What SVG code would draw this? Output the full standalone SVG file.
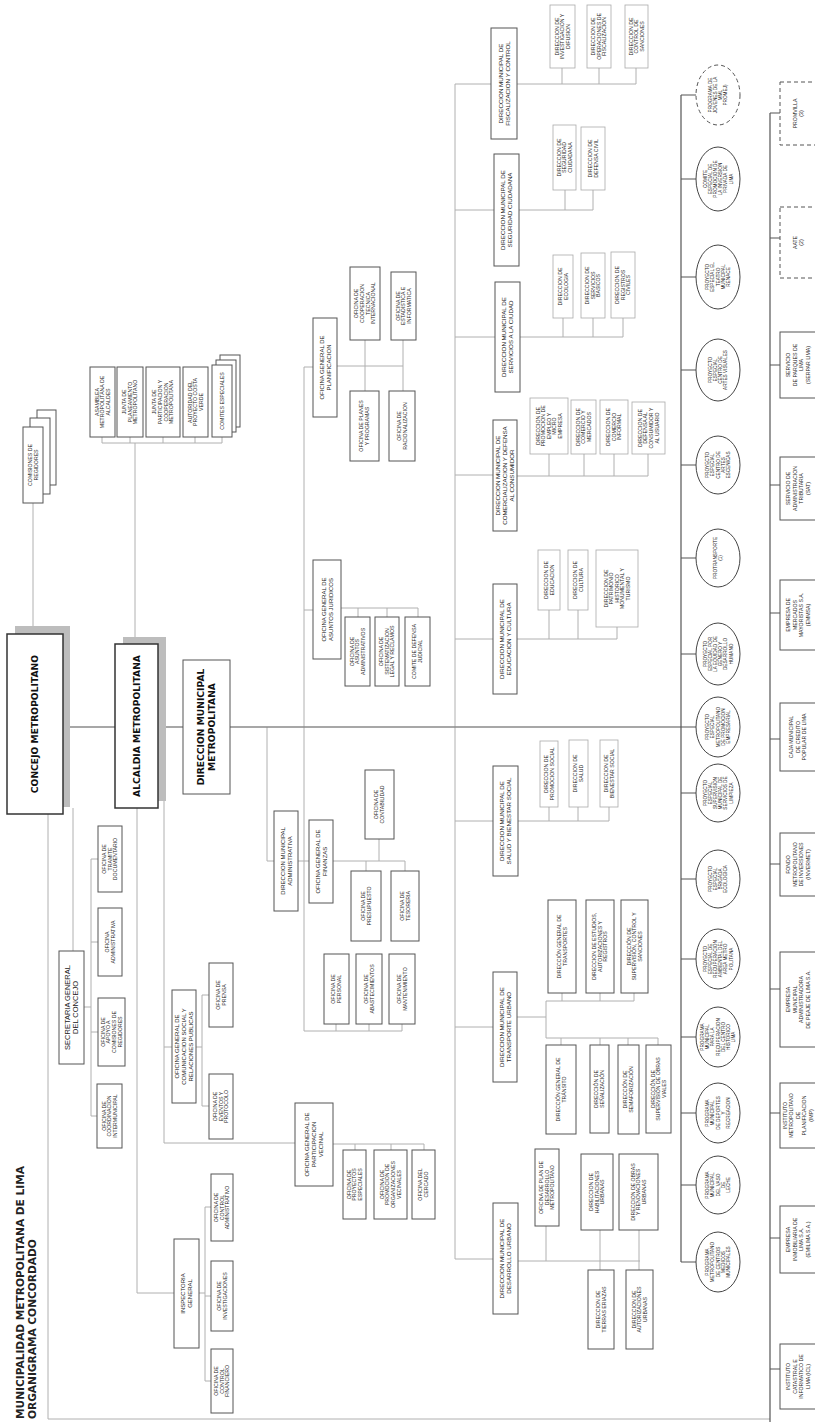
<svg xmlns="http://www.w3.org/2000/svg" width="815" height="1428" viewBox="0 0 815 1428">
<style>
.ln{stroke:#b0b0b0;stroke-width:1;fill:none}
.lm{stroke:#8a8a8a;stroke-width:1.3;fill:none}
.lk{stroke:#555;stroke-width:1.2;fill:none}
.bx{fill:#fff;stroke:#555;stroke-width:1}
.bl{fill:#fff;stroke:#aaa;stroke-width:0.8}
.bm{fill:#fff;stroke:#333;stroke-width:1.5}
.bd{fill:#fff;stroke:#555;stroke-width:1;stroke-dasharray:4 3}
.sh{fill:#bdbdbd}
.el{fill:#fff;stroke:#444;stroke-width:1}
.ed{fill:#fff;stroke:#555;stroke-width:1;stroke-dasharray:4 3}
.t{font-family:"Liberation Sans",Arial,sans-serif;font-size:5.2px;fill:#222;text-anchor:middle}
.tc{font-family:"Liberation Sans",Arial,sans-serif;font-size:4.7px;fill:#222;text-anchor:middle}
.tm{font-family:"Liberation Sans",Arial,sans-serif;font-size:6px;fill:#222;text-anchor:middle}
.td{font-family:"Liberation Sans",Arial,sans-serif;font-size:6.2px;fill:#222;text-anchor:middle}
.ts{font-family:"Liberation Sans",Arial,sans-serif;font-size:7.5px;fill:#222;text-anchor:middle}
.tb{font-family:"DejaVu Sans",Verdana,sans-serif;font-weight:bold;font-size:9.2px;fill:#111;text-anchor:middle}
.tt{font-family:"DejaVu Sans",Verdana,sans-serif;font-weight:bold;font-size:10.6px;fill:#222}
</style>

<g id="title">
<text class="tt" transform="translate(23.5,1419) rotate(-90)">MUNICIPALIDAD METROPOLITANA DE LIMA</text>
<text class="tt" transform="translate(35.5,1419) rotate(-90)">ORGANIGRAMA CONCORDADO</text>
</g>

<g id="connectors">
<path class="ln" d="M48,814 V1419 H770"/>
<path class="ln" d="M33,503 V626"/>
<path class="ln" d="M135,443 V637 M102,443 H222 M102,437 V443 M130,437 V443 M163,437 V443 M195,437 V443 M222,437 V443"/>
<path class="ln" d="M73,808 V951 M84,1007 H91 M91,859 V1116 M91,859 H98 M91,942 H98 M91,1032 H98 M91,1116 H97"/>
<path class="ln" d="M137,808 V1293 H174 M199,1293 H205 M205,1207 V1381 M205,1207 H211 M205,1296 H211 M205,1381 H211"/>
<path class="ln" d="M164,727 V1143 H295 M164,1047 H172 M196,1047 H202 M202,995 V1106 M202,995 H209 M202,1106 H209"/>
<path class="ln" d="M333,1144 H424 M355,1144 V1150 M391,1144 V1150 M424,1144 V1150"/>
<path class="ln" d="M267,727 V861 H274 M298,861 H309"/>
<path class="ln" d="M304,367 V1031 H402 M336,1024 V1031 M369,1024 V1031 M402,1024 V1031"/>
<path class="ln" d="M333,861 H405 M379,839 V861 M366,861 V871 M405,861 V871"/>
<path class="ln" d="M304,610 H313 M341,608 H418 M358,608 V617 M387,608 V617 M418,608 V617"/>
<path class="ln" d="M304,367 H313 M337,366 H403 M365,340 V391 M403,340 V391"/>
<path class="ln" d="M455,84 V1259 M455,84 H491 M455,210 H494 M455,337 H495 M455,475 H493 M455,639 H493 M455,821 H493 M455,1027 H493 M455,1259 H493"/>
<path class="ln" d="M517,84 H636 M562,68 V84 M599,68 V84 M636,68 V84"/>
<path class="ln" d="M519,210 H593 M565,190 V210 M593,190 V210"/>
<path class="ln" d="M520,337 H623 M563,318 V337 M593,318 V337 M623,318 V337"/>
<path class="ln" d="M517,476 H648 M549,454 V476 M584,454 V476 M614,454 V476 M648,454 V476"/>
<path class="ln" d="M517,639 H617 M549,610 V639 M578,610 V639 M617,627 V639"/>
<path class="ln" d="M518,821 H609 M549,807 V821 M578,807 V821 M609,807 V821"/>
<path class="ln" d="M517,1017 H546 M546,1001 V1038 M546,1001 H634 M562,993 V1001 M600,993 V1001 M634,993 V1001 M546,1038 H658 M561,1038 V1045 M600,1038 V1045 M628,1038 V1045 M658,1038 V1045"/>
<path class="ln" d="M518,1261 H640 M546,1226 V1261 M600,1230 V1270 M639,1230 V1270"/>
<path class="lm" d="M63,727 H681"/>
<path class="lk" d="M681,95 V1262 M681,95 H696 M681,179 H696 M681,277 H696 M681,370 H696 M681,465 H696 M681,558 H696 M681,654 H696 M681,727 H696 M681,793 H696 M681,879 H696 M681,959 H696 M681,1037 H696 M681,1113 H696 M681,1185 H696 M681,1262 H696"/>
<path class="lk" d="M770,113 V1422 M770,113 H780 M770,238 H780 M770,365 H780 M770,485 H780 M770,613 H780 M770,739 H780 M770,864 H780 M770,989 H780 M770,1113 H780 M770,1238 H780 M770,1369 H780"/>
</g>

<g id="n_concejo">
<rect class="sh" x="15" y="626" width="55" height="181"/>
<rect class="bm" x="7" y="634" width="56" height="180"/>
<text class="tb" transform="translate(35,724) rotate(-90)"><tspan x="0" y="3.3">CONCEJO METROPOLITANO</tspan></text>
</g>
<g id="n_alcaldia">
<rect class="sh" x="123" y="637" width="43" height="164"/>
<rect class="bm" x="115" y="644" width="43" height="164"/>
<text class="tb" transform="translate(136.5,726) rotate(-90)"><tspan x="0" y="3.3">ALCALDIA METROPOLITANA</tspan></text>
</g>
<g id="n_dmm">
<rect class="bx" x="183" y="660" width="47" height="134"/>
<text class="tb" transform="translate(206.5,727) rotate(-90)"><tspan x="0" y="-2.2">DIRECCION MUNICIPAL</tspan><tspan x="0" y="8.8">METROPOLITANA</tspan></text>
</g>

<g id="n_comisiones">
<rect class="bx" x="37" y="410" width="19" height="75"/>
<rect class="bx" x="30" y="418" width="20" height="76"/>
<rect class="bx" x="23" y="427" width="20" height="76"/>
<text class="t" transform="translate(33,465) rotate(-90)"><tspan x="0" y="-1.05">COMISIONES DE</tspan><tspan x="0" y="4.55">REGIDORES</tspan></text>
</g>
<g id="n_asamblea">
<rect class="bx" x="90" y="367" width="25" height="70"/>
<text class="t" transform="translate(102.5,402) rotate(-90)"><tspan x="0" y="-3.85">ASAMBLEA</tspan><tspan x="0" y="1.75">METROPOLITANA DE</tspan><tspan x="0" y="7.35">ALCALDES</tspan></text>
</g>
<g id="n_junta_plan">
<rect class="bx" x="117" y="367" width="26" height="70"/>
<text class="t" transform="translate(130,402) rotate(-90)"><tspan x="0" y="-3.85">JUNTA DE</tspan><tspan x="0" y="1.75">PLANEAMIENTO</tspan><tspan x="0" y="7.35">METROPOLITANO</tspan></text>
</g>
<g id="n_junta_part">
<rect class="bx" x="146" y="367" width="34" height="70"/>
<text class="t" transform="translate(163,402) rotate(-90)"><tspan x="0" y="-6.65">JUNTA DE</tspan><tspan x="0" y="-1.05">PARTICIPACION  Y</tspan><tspan x="0" y="4.55">COOPERACION</tspan><tspan x="0" y="10.15">METROPOLITANA</tspan></text>
</g>
<g id="n_autoridad">
<rect class="bx" x="183" y="367" width="25" height="70"/>
<text class="t" transform="translate(195.5,402) rotate(-90)"><tspan x="0" y="-3.85">AUTORIDAD DEL</tspan><tspan x="0" y="1.75">PROYECTO COSTA</tspan><tspan x="0" y="7.35">VERDE</tspan></text>
</g>
<g id="n_comites">
<rect class="bx" x="220" y="355" width="20" height="72"/>
<rect class="bx" x="216" y="360" width="20" height="72"/>
<rect class="bx" x="212" y="365" width="20" height="72"/>
<text class="t" transform="translate(222,401) rotate(-90)"><tspan x="0" y="1.75">COMITES ESPECIALES</tspan></text>
</g>

<g id="n_secretaria">
<rect class="bx" x="59" y="951" width="25" height="113"/>
<text class="ts" transform="translate(71.5,1007.5) rotate(-90)"><tspan x="0" y="-1.65">SECRETARIA GENERAL</tspan><tspan x="0" y="6.85">DEL CONCEJO</tspan></text>
</g>
<g id="n_tramite">
<rect class="bx" x="98" y="826" width="24" height="66"/>
<text class="t" transform="translate(110,859) rotate(-90)"><tspan x="0" y="-3.85">OFICINA DE</tspan><tspan x="0" y="1.75">TRAMITE</tspan><tspan x="0" y="7.35">DOCUMENTARIO</tspan></text>
</g>
<g id="n_ofadmin">
<rect class="bx" x="98" y="908" width="24" height="68"/>
<text class="t" transform="translate(110,942) rotate(-90)"><tspan x="0" y="-1.05">OFICINA</tspan><tspan x="0" y="4.55">ADMINISTRATIVA</tspan></text>
</g>
<g id="n_apoyo">
<rect class="bx" x="98" y="998" width="27" height="68"/>
<text class="t" transform="translate(111.5,1032) rotate(-90)"><tspan x="0" y="-6.65">OFICINA DE</tspan><tspan x="0" y="-1.05">APOYO A</tspan><tspan x="0" y="4.55">COMISIONES DE</tspan><tspan x="0" y="10.15">REGIDORES</tspan></text>
</g>
<g id="n_coordinacion">
<rect class="bx" x="97" y="1084" width="25" height="64"/>
<text class="t" transform="translate(109.5,1116) rotate(-90)"><tspan x="0" y="-3.85">OFICINA DE</tspan><tspan x="0" y="1.75">COORDINACION</tspan><tspan x="0" y="7.35">INTERMUNICIPAL</tspan></text>
</g>

<g id="n_inspectoria">
<rect class="bx" x="174" y="1239" width="25" height="109"/>
<text class="tm" transform="translate(186.5,1293.5) rotate(-90)"><tspan x="0" y="-1.3">INSPECTORIA</tspan><tspan x="0" y="5.5">GENERAL</tspan></text>
</g>
<g id="n_ctrladmin">
<rect class="bx" x="211" y="1174" width="22" height="67"/>
<text class="t" transform="translate(222,1207.5) rotate(-90)"><tspan x="0" y="-3.85">OFICINA DE</tspan><tspan x="0" y="1.75">CONTROL</tspan><tspan x="0" y="7.35">ADMINISTRATIVO</tspan></text>
</g>
<g id="n_investig">
<rect class="bx" x="211" y="1261" width="22" height="70"/>
<text class="t" transform="translate(222,1296) rotate(-90)"><tspan x="0" y="-1.05">OFICINA DE</tspan><tspan x="0" y="4.55">INVESTIGACIONES</tspan></text>
</g>
<g id="n_ctrlfin">
<rect class="bx" x="211" y="1349" width="22" height="64"/>
<text class="t" transform="translate(222,1381) rotate(-90)"><tspan x="0" y="-3.85">OFICINA DE</tspan><tspan x="0" y="1.75">CONTROL</tspan><tspan x="0" y="7.35">FINANCIERO</tspan></text>
</g>

<g id="n_comunicacion">
<rect class="bx" x="172" y="990" width="24" height="113"/>
<text class="tm" transform="translate(184,1046.5) rotate(-90)"><tspan x="0" y="-4.7">OFICINA GENERAL DE</tspan><tspan x="0" y="2.1">COMUNICACION SOCIAL  Y</tspan><tspan x="0" y="8.9">RELACIONES PUBLICAS</tspan></text>
</g>
<g id="n_prensa">
<rect class="bx" x="209" y="963" width="24" height="64"/>
<text class="t" transform="translate(221,995) rotate(-90)"><tspan x="0" y="-1.05">OFICINA DE</tspan><tspan x="0" y="4.55">PRENSA</tspan></text>
</g>
<g id="n_eventos">
<rect class="bx" x="209" y="1074" width="24" height="65"/>
<text class="t" transform="translate(221,1106.5) rotate(-90)"><tspan x="0" y="-3.85">OFICINA DE</tspan><tspan x="0" y="1.75">EVENTOS Y</tspan><tspan x="0" y="7.35">PROTOCOLO</tspan></text>
</g>

<g id="n_participacion">
<rect class="bx" x="295" y="1103" width="38" height="83"/>
<text class="tm" transform="translate(314,1144.5) rotate(-90)"><tspan x="0" y="-4.7">OFICINA GENERAL DE</tspan><tspan x="0" y="2.1">PARTICIPACION</tspan><tspan x="0" y="8.9">VECINAL</tspan></text>
</g>
<g id="n_proyesp">
<rect class="bx" x="343" y="1150" width="23" height="69"/>
<text class="t" transform="translate(354.5,1184.5) rotate(-90)"><tspan x="0" y="-3.85">OFICINA  DE</tspan><tspan x="0" y="1.75">PROYECTOS</tspan><tspan x="0" y="7.35">ESPECIALES</tspan></text>
</g>
<g id="n_promorg">
<rect class="bx" x="374" y="1150" width="33" height="69"/>
<text class="t" transform="translate(390.5,1184.5) rotate(-90)"><tspan x="0" y="-6.65">OFICINA DE</tspan><tspan x="0" y="-1.05">PROMOCION DE</tspan><tspan x="0" y="4.55">ORGANIZACIONES</tspan><tspan x="0" y="10.15">VECINALES</tspan></text>
</g>
<g id="n_cercado">
<rect class="bx" x="412" y="1150" width="23" height="69"/>
<text class="t" transform="translate(423.5,1184.5) rotate(-90)"><tspan x="0" y="-1.05">OFICINA DEL</tspan><tspan x="0" y="4.55">CERCADO</tspan></text>
</g>

<g id="n_dmadmin">
<rect class="bx" x="274" y="811" width="24" height="100"/>
<text class="tm" transform="translate(286,861) rotate(-90)"><tspan x="0" y="-1.3">DIRECCION MUNICIPAL</tspan><tspan x="0" y="5.5">ADMINISTRATIVA</tspan></text>
</g>
<g id="n_finanzas">
<rect class="bx" x="309" y="820" width="24" height="83"/>
<text class="tm" transform="translate(321,861.5) rotate(-90)"><tspan x="0" y="-1.3">OFICINA GENERAL DE</tspan><tspan x="0" y="5.5">FINANZAS</tspan></text>
</g>
<g id="n_contabilidad">
<rect class="bx" x="365" y="770" width="29" height="69"/>
<text class="t" transform="translate(379.5,804.5) rotate(-90)"><tspan x="0" y="-1.05">OFICINA DE</tspan><tspan x="0" y="4.55">CONTABILIDAD</tspan></text>
</g>
<g id="n_presupuesto">
<rect class="bx" x="351" y="871" width="30" height="70"/>
<text class="t" transform="translate(366,906) rotate(-90)"><tspan x="0" y="-1.05">OFICINA DE</tspan><tspan x="0" y="4.55">PRESUPUESTO</tspan></text>
</g>
<g id="n_tesoreria">
<rect class="bx" x="391" y="871" width="28" height="70"/>
<text class="t" transform="translate(405,906) rotate(-90)"><tspan x="0" y="-1.05">OFICINA DE</tspan><tspan x="0" y="4.55">TESORERIA</tspan></text>
</g>
<g id="n_personal">
<rect class="bx" x="324" y="954" width="25" height="70"/>
<text class="t" transform="translate(336.5,989) rotate(-90)"><tspan x="0" y="-1.05">OFICINA DE</tspan><tspan x="0" y="4.55">PERSONAL</tspan></text>
</g>
<g id="n_abastecimientos">
<rect class="bx" x="356" y="954" width="26" height="70"/>
<text class="t" transform="translate(369,989) rotate(-90)"><tspan x="0" y="-1.05">OFICINA DE</tspan><tspan x="0" y="4.55">ABASTECIMIENTOS</tspan></text>
</g>
<g id="n_mantenimiento">
<rect class="bx" x="389" y="954" width="26" height="70"/>
<text class="t" transform="translate(402,989) rotate(-90)"><tspan x="0" y="-1.05">OFICINA  DE</tspan><tspan x="0" y="4.55">MANTENIMIENTO</tspan></text>
</g>

<g id="n_juridicos">
<rect class="bx" x="313" y="560" width="28" height="99"/>
<text class="tm" transform="translate(327,609.5) rotate(-90)"><tspan x="0" y="-1.3">OFICINA GENERAL DE</tspan><tspan x="0" y="5.5">ASUNTOS JURIDICOS</tspan></text>
</g>
<g id="n_asadm">
<rect class="bx" x="345" y="617" width="25" height="69"/>
<text class="t" transform="translate(357.5,651.5) rotate(-90)"><tspan x="0" y="-3.85">OFICINA DE</tspan><tspan x="0" y="1.75">ASUNTOS</tspan><tspan x="0" y="7.35">ADMINISTRATIVOS</tspan></text>
</g>
<g id="n_sistematizacion">
<rect class="bx" x="375" y="617" width="24" height="69"/>
<text class="t" transform="translate(387,651.5) rotate(-90)"><tspan x="0" y="-3.85">OFICINA DE</tspan><tspan x="0" y="1.75">SISTEMATIZACION</tspan><tspan x="0" y="7.35">LEGAL Y RECLAMOS</tspan></text>
</g>
<g id="n_defjud">
<rect class="bx" x="405" y="617" width="25" height="69"/>
<text class="t" transform="translate(417.5,651.5) rotate(-90)"><tspan x="0" y="-1.05">COMITE DE DEFENSA</tspan><tspan x="0" y="4.55">JUDICIAL</tspan></text>
</g>

<g id="n_planificacion">
<rect class="bx" x="313" y="318" width="24" height="99"/>
<text class="tm" transform="translate(325,367.5) rotate(-90)"><tspan x="0" y="-1.3">OFICINA GENERAL DE</tspan><tspan x="0" y="5.5">PLANIFICACION</tspan></text>
</g>
<g id="n_cooperacion">
<rect class="bx" x="350" y="267" width="30" height="73"/>
<text class="t" transform="translate(365,303.5) rotate(-90)"><tspan x="0" y="-6.65">OFICINA  DE</tspan><tspan x="0" y="-1.05">COOPERACION</tspan><tspan x="0" y="4.55">TECNICA</tspan><tspan x="0" y="10.15">INTERNACIONAL</tspan></text>
</g>
<g id="n_estadistica">
<rect class="bx" x="391" y="272" width="25" height="68"/>
<text class="t" transform="translate(403.5,306) rotate(-90)"><tspan x="0" y="-3.85">OFICINA DE</tspan><tspan x="0" y="1.75">ESTADISTICA E</tspan><tspan x="0" y="7.35">INFORMATICA</tspan></text>
</g>
<g id="n_planes">
<rect class="bx" x="350" y="391" width="29" height="70"/>
<text class="t" transform="translate(364.5,426) rotate(-90)"><tspan x="0" y="-1.05">OFICINA DE PLANES</tspan><tspan x="0" y="4.55">Y PROGRAMAS</tspan></text>
</g>
<g id="n_racionalizacion">
<rect class="bx" x="389" y="391" width="26" height="70"/>
<text class="t" transform="translate(402,426) rotate(-90)"><tspan x="0" y="-1.05">OFICINA DE</tspan><tspan x="0" y="4.55">RACIONALIZACION</tspan></text>
</g>

<g id="n_dm_fiscalizacion">
<rect class="bx" x="491" y="28" width="26" height="111"/>
<text class="td" transform="translate(504,83.5) rotate(-90)"><tspan x="0" y="-1.3">DIRECCION MUNICIPAL DE</tspan><tspan x="0" y="5.7">FISCALIZACION Y CONTROL</tspan></text>
</g>
<g id="n_dm_seguridad">
<rect class="bx" x="494" y="154" width="25" height="112"/>
<text class="td" transform="translate(506.5,210) rotate(-90)"><tspan x="0" y="-1.3">DIRECCION MUNICIPAL DE</tspan><tspan x="0" y="5.7">SEGURIDAD CIUDADANA</tspan></text>
</g>
<g id="n_dm_servicios">
<rect class="bx" x="495" y="282" width="25" height="110"/>
<text class="td" transform="translate(507.5,337) rotate(-90)"><tspan x="0" y="-1.3">DIRECCION MUNICIPAL DE</tspan><tspan x="0" y="5.7">SERVICIOS A LA CIUDAD</tspan></text>
</g>
<g id="n_dm_comercializacion">
<rect class="bx" x="493" y="420" width="24" height="111"/>
<text class="td" transform="translate(505,475.5) rotate(-90)"><tspan x="0" y="-4.8">DIRECCION MUNICIPAL DE</tspan><tspan x="0" y="2.2">COMERCIALIZACION Y DEFENSA</tspan><tspan x="0" y="9.2">AL CONSUMIDOR</tspan></text>
</g>
<g id="n_dm_educacion">
<rect class="bx" x="493" y="584" width="24" height="110"/>
<text class="td" transform="translate(505,639) rotate(-90)"><tspan x="0" y="-1.3">DIRECCION MUNICIPAL DE</tspan><tspan x="0" y="5.7">EDUCACION Y CULTURA</tspan></text>
</g>
<g id="n_dm_salud">
<rect class="bx" x="493" y="766" width="25" height="110"/>
<text class="td" transform="translate(505.5,821) rotate(-90)"><tspan x="0" y="-1.3">DIRECCION MUNICIPAL DE</tspan><tspan x="0" y="5.7">SALUD Y BIENESTAR SOCIAL</tspan></text>
</g>
<g id="n_dm_transporte">
<rect class="bx" x="493" y="972" width="24" height="110"/>
<text class="td" transform="translate(505,1027) rotate(-90)"><tspan x="0" y="-1.3">DIRECCION MUNICIPAL DE</tspan><tspan x="0" y="5.7">TRANSPORTE URBANO</tspan></text>
</g>
<g id="n_dm_desarrollo">
<rect class="bx" x="493" y="1203" width="25" height="111"/>
<text class="td" transform="translate(505.5,1258.5) rotate(-90)"><tspan x="0" y="-1.3">DIRECCION MUNICIPAL DE</tspan><tspan x="0" y="5.7">DESARROLLO URBANO</tspan></text>
</g>

<g id="n_d_investigacion">
<rect class="bl" x="550" y="5" width="25" height="63"/>
<text class="t" transform="translate(562.5,36.5) rotate(-90)"><tspan x="0" y="-3.85">DIRECCION DE</tspan><tspan x="0" y="1.75">INVESTIGACION Y</tspan><tspan x="0" y="7.35">DIFUSION</tspan></text>
</g>
<g id="n_d_operaciones">
<rect class="bl" x="587" y="5" width="24" height="63"/>
<text class="t" transform="translate(599,36.5) rotate(-90)"><tspan x="0" y="-3.85">DIRECCION DE</tspan><tspan x="0" y="1.75">OPERACIONES DE</tspan><tspan x="0" y="7.35">FISCALIZACION</tspan></text>
</g>
<g id="n_d_sanciones">
<rect class="bl" x="625" y="5" width="23" height="63"/>
<text class="t" transform="translate(636.5,36.5) rotate(-90)"><tspan x="0" y="-3.85">DIRECCION DE</tspan><tspan x="0" y="1.75">CONTROL DE</tspan><tspan x="0" y="7.35">SANCIONES</tspan></text>
</g>
<g id="n_d_seguridad">
<rect class="bl" x="553" y="125" width="23" height="65"/>
<text class="t" transform="translate(564.5,157.5) rotate(-90)"><tspan x="0" y="-3.85">DIRECCION DE</tspan><tspan x="0" y="1.75">SEGURIDAD</tspan><tspan x="0" y="7.35">CIUDADANA</tspan></text>
</g>
<g id="n_d_defensacivil">
<rect class="bl" x="581" y="127" width="24" height="63"/>
<text class="t" transform="translate(593,158.5) rotate(-90)"><tspan x="0" y="-1.05">DIRECCION DE</tspan><tspan x="0" y="4.55">DEFENSA CIVIL</tspan></text>
</g>
<g id="n_d_ecologia">
<rect class="bl" x="553" y="255" width="20" height="63"/>
<text class="t" transform="translate(563,286.5) rotate(-90)"><tspan x="0" y="-1.05">DIRECCION DE</tspan><tspan x="0" y="4.55">ECOLOGIA</tspan></text>
</g>
<g id="n_d_servbasicos">
<rect class="bl" x="581" y="253" width="24" height="65"/>
<text class="t" transform="translate(593,285.5) rotate(-90)"><tspan x="0" y="-3.85">DIRECCION DE</tspan><tspan x="0" y="1.75">SERVICIOS</tspan><tspan x="0" y="7.35">BASICOS</tspan></text>
</g>
<g id="n_d_registros">
<rect class="bl" x="611" y="252" width="24" height="66"/>
<text class="t" transform="translate(623,285) rotate(-90)"><tspan x="0" y="-3.85">DIRECCION DE</tspan><tspan x="0" y="1.75">REGISTROS</tspan><tspan x="0" y="7.35">CIVILES</tspan></text>
</g>
<g id="n_d_empleo">
<rect class="bl" x="530" y="398" width="38" height="56"/>
<text class="t" transform="translate(549,426) rotate(-90)"><tspan x="0" y="-9.45">DIRECCION DE</tspan><tspan x="0" y="-3.85">PROMOCION DE</tspan><tspan x="0" y="1.75">EMPLEO Y</tspan><tspan x="0" y="7.35">MICRO</tspan><tspan x="0" y="12.95">EMPRESA</tspan></text>
</g>
<g id="n_d_comercio">
<rect class="bl" x="571" y="400" width="25" height="54"/>
<text class="t" transform="translate(583.5,427) rotate(-90)"><tspan x="0" y="-3.85">DIRECCION DE</tspan><tspan x="0" y="1.75">COMERCIO Y</tspan><tspan x="0" y="7.35">MERCADOS</tspan></text>
</g>
<g id="n_d_informal">
<rect class="bl" x="600" y="400" width="28" height="54"/>
<text class="t" transform="translate(614,427) rotate(-90)"><tspan x="0" y="-3.85">DIRECCION DE</tspan><tspan x="0" y="1.75">COMERCIO</tspan><tspan x="0" y="7.35">INFORMAL</tspan></text>
</g>
<g id="n_d_consumidor">
<rect class="bl" x="632" y="402" width="33" height="52"/>
<text class="t" transform="translate(648.5,428) rotate(-90)"><tspan x="0" y="-6.65">DIRECCION DE</tspan><tspan x="0" y="-1.05">DEFENSA  AL</tspan><tspan x="0" y="4.55">CONSUMIDOR Y</tspan><tspan x="0" y="10.15">AL USUARIO</tspan></text>
</g>
<g id="n_d_educacion">
<rect class="bl" x="538" y="550" width="22" height="60"/>
<text class="t" transform="translate(549,580) rotate(-90)"><tspan x="0" y="-1.05">DIRECCION DE</tspan><tspan x="0" y="4.55">EDUCACION</tspan></text>
</g>
<g id="n_d_cultura">
<rect class="bl" x="568" y="550" width="20" height="60"/>
<text class="t" transform="translate(578,580) rotate(-90)"><tspan x="0" y="-1.05">DIRECCION DE</tspan><tspan x="0" y="4.55">CULTURA</tspan></text>
</g>
<g id="n_d_patrimonio">
<rect class="bl" x="596" y="550" width="42" height="77"/>
<text class="t" transform="translate(617,588.5) rotate(-90)"><tspan x="0" y="-9.45">DIRECCION DE</tspan><tspan x="0" y="-3.85">PATRIMONIO</tspan><tspan x="0" y="1.75">HISTORICO</tspan><tspan x="0" y="7.35">MONUMENTAL Y</tspan><tspan x="0" y="12.95">TURISMO</tspan></text>
</g>
<g id="n_d_promsocial">
<rect class="bl" x="540" y="741" width="18" height="66"/>
<text class="t" transform="translate(549,774) rotate(-90)"><tspan x="0" y="-1.05">DIRECCION DE</tspan><tspan x="0" y="4.55">PROMOCION SOCIAL</tspan></text>
</g>
<g id="n_d_salud">
<rect class="bl" x="569" y="740" width="19" height="67"/>
<text class="t" transform="translate(578.5,773.5) rotate(-90)"><tspan x="0" y="-1.05">DIRECCION DE</tspan><tspan x="0" y="4.55">SALUD</tspan></text>
</g>
<g id="n_d_bienestar">
<rect class="bl" x="600" y="740" width="18" height="67"/>
<text class="t" transform="translate(609,773.5) rotate(-90)"><tspan x="0" y="-1.05">DIRECCION DE</tspan><tspan x="0" y="4.55">BIENESTAR SOCIAL</tspan></text>
</g>

<g id="n_d_gentransportes">
<rect class="bx" x="548" y="900" width="28" height="93"/>
<text class="t" transform="translate(562,946.5) rotate(-90)"><tspan x="0" y="-1.05">DIRECCIÓN  GENERAL DE</tspan><tspan x="0" y="4.55">TRANSPORTES</tspan></text>
</g>
<g id="n_d_estudios">
<rect class="bx" x="586" y="900" width="28" height="93"/>
<text class="t" transform="translate(600,946.5) rotate(-90)"><tspan x="0" y="-3.85">DIRECCION DE ESTUDIOS,</tspan><tspan x="0" y="1.75">AUTORIZACIONES Y</tspan><tspan x="0" y="7.35">REGISTROS</tspan></text>
</g>
<g id="n_d_supcontrol">
<rect class="bx" x="621" y="900" width="27" height="93"/>
<text class="t" transform="translate(634.5,946.5) rotate(-90)"><tspan x="0" y="-3.85">DIRECCIÓN DE</tspan><tspan x="0" y="1.75">SUPERVISIÓN, CONTROL Y</tspan><tspan x="0" y="7.35">SANCIONES</tspan></text>
</g>
<g id="n_d_transito">
<rect class="bx" x="546" y="1045" width="30" height="89"/>
<text class="t" transform="translate(561,1089.5) rotate(-90)"><tspan x="0" y="-1.05">DIRECCIÓN GENERAL DE</tspan><tspan x="0" y="4.55">TRÁNSITO</tspan></text>
</g>
<g id="n_d_senalizacion">
<rect class="bx" x="590" y="1045" width="19" height="88"/>
<text class="t" transform="translate(599.5,1089) rotate(-90)"><tspan x="0" y="-1.05">DIRECCIÓN DE</tspan><tspan x="0" y="4.55">SEÑALIZACIÓN</tspan></text>
</g>
<g id="n_d_semaforizacion">
<rect class="bx" x="618" y="1045" width="21" height="89"/>
<text class="t" transform="translate(628.5,1089.5) rotate(-90)"><tspan x="0" y="-1.05">DIRECCIÓN DE</tspan><tspan x="0" y="4.55">SEMAFORIZACIÓN</tspan></text>
</g>
<g id="n_d_obrasviales">
<rect class="bx" x="646" y="1045" width="25" height="88"/>
<text class="t" transform="translate(658.5,1089) rotate(-90)"><tspan x="0" y="-3.85">DIRECCIÓN DE</tspan><tspan x="0" y="1.75">SUPERVISIÓN DE OBRAS</tspan><tspan x="0" y="7.35">VIALES</tspan></text>
</g>

<g id="n_o_plandesarrollo">
<rect class="bx" x="535" y="1149" width="24" height="77"/>
<text class="t" transform="translate(547,1187.5) rotate(-90)"><tspan x="0" y="-3.85">OFICINA DE PLAN DE</tspan><tspan x="0" y="1.75">DESARROLLO</tspan><tspan x="0" y="7.35">METROPOLITANO</tspan></text>
</g>
<g id="n_d_habilitaciones">
<rect class="bx" x="581" y="1154" width="32" height="76"/>
<text class="t" transform="translate(597,1192) rotate(-90)"><tspan x="0" y="-3.85">DIRECCION DE</tspan><tspan x="0" y="1.75">HABILITACIONES</tspan><tspan x="0" y="7.35">URBANAS</tspan></text>
</g>
<g id="n_d_obrasrenov">
<rect class="bx" x="619" y="1154" width="39" height="76"/>
<text class="t" transform="translate(638.5,1192) rotate(-90)"><tspan x="0" y="-3.85">DIRECCION DE OBRAS</tspan><tspan x="0" y="1.75">Y RENOVACIONES</tspan><tspan x="0" y="7.35">URBANAS</tspan></text>
</g>
<g id="n_d_tierras">
<rect class="bx" x="588" y="1270" width="26" height="79"/>
<text class="t" transform="translate(601,1309.5) rotate(-90)"><tspan x="0" y="-1.05">DIRECCION DE</tspan><tspan x="0" y="4.55">TIERRAS ERIAZAS</tspan></text>
</g>
<g id="n_d_autorizaciones">
<rect class="bx" x="626" y="1270" width="27" height="79"/>
<text class="t" transform="translate(639.5,1309.5) rotate(-90)"><tspan x="0" y="-3.85">DIRECCION DE</tspan><tspan x="0" y="1.75">AUTORIZACIONES</tspan><tspan x="0" y="7.35">URBANAS</tspan></text>
</g>

<g id="n_p_promej">
<ellipse class="ed" cx="718" cy="95" rx="22" ry="30"/>
<text class="tc" transform="translate(718,95) rotate(-90)"><tspan x="0" y="-6.2">PROGRAMA DE</tspan><tspan x="0" y="-1.0">JOVENES DE LA</tspan><tspan x="0" y="4.2">MML</tspan><tspan x="0" y="9.4">PROMEJ)</tspan></text>
</g>
<g id="n_p_comite">
<ellipse class="el" cx="718" cy="179" rx="22" ry="32"/>
<text class="tc" transform="translate(718,179) rotate(-90)"><tspan x="0" y="-11.4">COMITE</tspan><tspan x="0" y="-6.2">ESPECIAL DE</tspan><tspan x="0" y="-1.0">PROMOCION DE</tspan><tspan x="0" y="4.2">LA INVERSION</tspan><tspan x="0" y="9.4">PRIVADA DE</tspan><tspan x="0" y="14.6">LIMA</tspan></text>
</g>
<g id="n_p_teatro">
<ellipse class="el" cx="718" cy="277" rx="22" ry="32"/>
<text class="tc" transform="translate(718,277) rotate(-90)"><tspan x="0" y="-8.8">PROYECTO</tspan><tspan x="0" y="-3.6">ESPECIAL EL</tspan><tspan x="0" y="1.6">TEATRO</tspan><tspan x="0" y="6.8">MUNICIPAL</tspan><tspan x="0" y="12.0">RENACE</tspan></text>
</g>
<g id="n_p_artesvisuales">
<ellipse class="el" cx="718" cy="370" rx="22" ry="31"/>
<text class="tc" transform="translate(718,370) rotate(-90)"><tspan x="0" y="-6.2">PROYECTO</tspan><tspan x="0" y="-1.0">ESPECIAL</tspan><tspan x="0" y="4.2">CENTRO DE</tspan><tspan x="0" y="9.4">ARTES VISUALES</tspan></text>
</g>
<g id="n_p_artesescenicas">
<ellipse class="el" cx="718" cy="465" rx="22" ry="29"/>
<text class="tc" transform="translate(718,465) rotate(-90)"><tspan x="0" y="-8.8">PROYECTO</tspan><tspan x="0" y="-3.6">ESPECIAL</tspan><tspan x="0" y="1.6">CENTRO DE</tspan><tspan x="0" y="6.8">ARTES</tspan><tspan x="0" y="12.0">ESCENICAS</tspan></text>
</g>
<g id="n_p_protransporte">
<ellipse class="el" cx="718" cy="558" rx="22" ry="29"/>
<text class="tc" transform="translate(718,558) rotate(-90)"><tspan x="0" y="-1.0">PROTRANSPORTE</tspan><tspan x="0" y="4.2">(1)</tspan></text>
</g>
<g id="n_p_equidad">
<ellipse class="el" cx="718" cy="654" rx="22" ry="31"/>
<text class="tc" transform="translate(718,654) rotate(-90)"><tspan x="0" y="-11.4">PROYECTO</tspan><tspan x="0" y="-6.2">ESPECIAL POR</tspan><tspan x="0" y="-1.0">LA EQUIDAD DE</tspan><tspan x="0" y="4.2">GENERO Y</tspan><tspan x="0" y="9.4">DESARROLLO</tspan><tspan x="0" y="14.6">HUMANO</tspan></text>
</g>
<g id="n_p_promempresarial">
<ellipse class="el" cx="718" cy="727" rx="22" ry="30"/>
<text class="tc" transform="translate(718,727) rotate(-90)"><tspan x="0" y="-8.8">PROYECTO</tspan><tspan x="0" y="-3.6">ESPECIAL</tspan><tspan x="0" y="1.6">METROPOLITANO</tspan><tspan x="0" y="6.8">DE PROMOCION</tspan><tspan x="0" y="12.0">EMPRESARIAL</tspan></text>
</g>
<g id="n_p_limpieza">
<ellipse class="el" cx="718" cy="793" rx="22" ry="29"/>
<text class="tc" transform="translate(718,793) rotate(-90)"><tspan x="0" y="-11.4">PROYECTO</tspan><tspan x="0" y="-6.2">ESPECIAL</tspan><tspan x="0" y="-1.0">SUPERVISION</tspan><tspan x="0" y="4.2">MUNICIPAL DE</tspan><tspan x="0" y="9.4">SERVICIOS DE</tspan><tspan x="0" y="14.6">LIMPIEZA</tspan></text>
</g>
<g id="n_p_brigada">
<ellipse class="el" cx="718" cy="879" rx="22" ry="29"/>
<text class="tc" transform="translate(718,879) rotate(-90)"><tspan x="0" y="-6.2">PROYECTO</tspan><tspan x="0" y="-1.0">ESPECIAL</tspan><tspan x="0" y="4.2">BRIGADA</tspan><tspan x="0" y="9.4">ECOLOGICA</tspan></text>
</g>
<g id="n_p_ambiental">
<ellipse class="el" cx="718" cy="959" rx="22" ry="30"/>
<text class="tc" transform="translate(718,959) rotate(-90)"><tspan x="0" y="-11.4">PROYECTO</tspan><tspan x="0" y="-6.2">ESPECIAL DE</tspan><tspan x="0" y="-1.0">RECUPERACION</tspan><tspan x="0" y="4.2">AMBIENTAL DEL</tspan><tspan x="0" y="9.4">AREA METRO</tspan><tspan x="0" y="14.6">POLITANA</tspan></text>
</g>
<g id="n_p_centrohistorico">
<ellipse class="el" cx="718" cy="1037" rx="22" ry="30"/>
<text class="tc" transform="translate(718,1037) rotate(-90)"><tspan x="0" y="-14.0">PROGRAMA</tspan><tspan x="0" y="-8.8">MUNICIPAL</tspan><tspan x="0" y="-3.6">PARA LA</tspan><tspan x="0" y="1.6">RECUPERACION</tspan><tspan x="0" y="6.8">DEL CENTRO</tspan><tspan x="0" y="12.0">HISTORICO</tspan><tspan x="0" y="17.2">LIMA</tspan></text>
</g>
<g id="n_p_deportes">
<ellipse class="el" cx="718" cy="1113" rx="22" ry="30"/>
<text class="tc" transform="translate(718,1113) rotate(-90)"><tspan x="0" y="-8.8">PROGRAMA</tspan><tspan x="0" y="-3.6">MUNICIPAL</tspan><tspan x="0" y="1.6">DE DEPORTES</tspan><tspan x="0" y="6.8">Y</tspan><tspan x="0" y="12.0">RECREACION</tspan></text>
</g>
<g id="n_p_vasodeleche">
<ellipse class="el" cx="718" cy="1185" rx="22" ry="29"/>
<text class="tc" transform="translate(718,1185) rotate(-90)"><tspan x="0" y="-8.8">PROGRAMA</tspan><tspan x="0" y="-3.6">MUNICIPAL</tspan><tspan x="0" y="1.6">DEL VASO</tspan><tspan x="0" y="6.8">DE</tspan><tspan x="0" y="12.0">LECHE</tspan></text>
</g>
<g id="n_p_centrosmedicos">
<ellipse class="el" cx="718" cy="1262" rx="22" ry="30"/>
<text class="tc" transform="translate(718,1262) rotate(-90)"><tspan x="0" y="-8.8">PROGRAMA</tspan><tspan x="0" y="-3.6">METROPOLITANO</tspan><tspan x="0" y="1.6">DE CENTROS</tspan><tspan x="0" y="6.8">MEDICOS</tspan><tspan x="0" y="12.0">MUNICIPALES</tspan></text>
</g>

<g id="n_e_promvilla">
<rect class="bd" x="780" y="82" width="40" height="63"/>
<text class="t" transform="translate(798,113.5) rotate(-90)"><tspan x="0" y="-1.5">PROMVILLA</tspan><tspan x="0" y="5.0">(3)</tspan></text>
</g>
<g id="n_e_aate">
<rect class="bd" x="780" y="207" width="40" height="71"/>
<text class="t" transform="translate(798,242.5) rotate(-90)"><tspan x="0" y="-1.5">AATE</tspan><tspan x="0" y="5.0">(2)</tspan></text>
</g>
<g id="n_e_serpar">
<rect class="bx" x="780" y="332" width="40" height="66"/>
<text class="t" transform="translate(798,365) rotate(-90)"><tspan x="0" y="-8.0">SERVICIO</tspan><tspan x="0" y="-1.5">DE PARQUES DE</tspan><tspan x="0" y="5.0">LIMA</tspan><tspan x="0" y="11.5">(SERPAR LIMA)</tspan></text>
</g>
<g id="n_e_sat">
<rect class="bx" x="780" y="457" width="40" height="63"/>
<text class="t" transform="translate(798,488.5) rotate(-90)"><tspan x="0" y="-8.0">SERVICIO DE</tspan><tspan x="0" y="-1.5">ADMINISTRACION</tspan><tspan x="0" y="5.0">TRIBUTARIA</tspan><tspan x="0" y="11.5">(SAT)</tspan></text>
</g>
<g id="n_e_emmsa">
<rect class="bx" x="780" y="580" width="40" height="70"/>
<text class="t" transform="translate(798,615) rotate(-90)"><tspan x="0" y="-8.0">EMPRESA DE</tspan><tspan x="0" y="-1.5">MERCADOS</tspan><tspan x="0" y="5.0">MAYORISTAS S.A.</tspan><tspan x="0" y="11.5">(EMMSA)</tspan></text>
</g>
<g id="n_e_caja">
<rect class="bx" x="780" y="703" width="40" height="68"/>
<text class="t" transform="translate(798,737) rotate(-90)"><tspan x="0" y="-4.75">CAJA MUNICIPAL</tspan><tspan x="0" y="1.75">DE CREDITO</tspan><tspan x="0" y="8.25">POPULAR DE LIMA</tspan></text>
</g>
<g id="n_e_invermet">
<rect class="bx" x="780" y="833" width="40" height="63"/>
<text class="t" transform="translate(798,864.5) rotate(-90)"><tspan x="0" y="-8.0">FONDO</tspan><tspan x="0" y="-1.5">METROPOLITANO</tspan><tspan x="0" y="5.0">DE INVERSIONES</tspan><tspan x="0" y="11.5">(INVERMET)</tspan></text>
</g>
<g id="n_e_peaje">
<rect class="bx" x="780" y="952" width="40" height="95"/>
<text class="t" transform="translate(798,999.5) rotate(-90)"><tspan x="0" y="-8.0">EMPRESA</tspan><tspan x="0" y="-1.5">MUNICIPAL</tspan><tspan x="0" y="5.0">ADMINISTRADORA</tspan><tspan x="0" y="11.5">DE PEAJE DE LIMA S.A.</tspan></text>
</g>
<g id="n_e_imp">
<rect class="bx" x="780" y="1083" width="40" height="65"/>
<text class="t" transform="translate(798,1115.5) rotate(-90)"><tspan x="0" y="-11.25">INSTITUTO</tspan><tspan x="0" y="-4.75">METROPOLITANO</tspan><tspan x="0" y="1.75">DE</tspan><tspan x="0" y="8.25">PLANIFICACION</tspan><tspan x="0" y="14.75">(IMP)</tspan></text>
</g>
<g id="n_e_emilima">
<rect class="bx" x="780" y="1206" width="40" height="67"/>
<text class="t" transform="translate(798,1239.5) rotate(-90)"><tspan x="0" y="-8.0">EMPRESA</tspan><tspan x="0" y="-1.5">INMOBILIARIA DE</tspan><tspan x="0" y="5.0">LIMA S.A.</tspan><tspan x="0" y="11.5">(EMILIMA S.A.)</tspan></text>
</g>
<g id="n_e_icl">
<rect class="bx" x="780" y="1344" width="40" height="65"/>
<text class="t" transform="translate(798,1376.5) rotate(-90)"><tspan x="0" y="-8.0">INSTITUTO</tspan><tspan x="0" y="-1.5">CATASTRAL E</tspan><tspan x="0" y="5.0">INFORMATICO DE</tspan><tspan x="0" y="11.5">LIMA (ICL)</tspan></text>
</g>
</svg>
